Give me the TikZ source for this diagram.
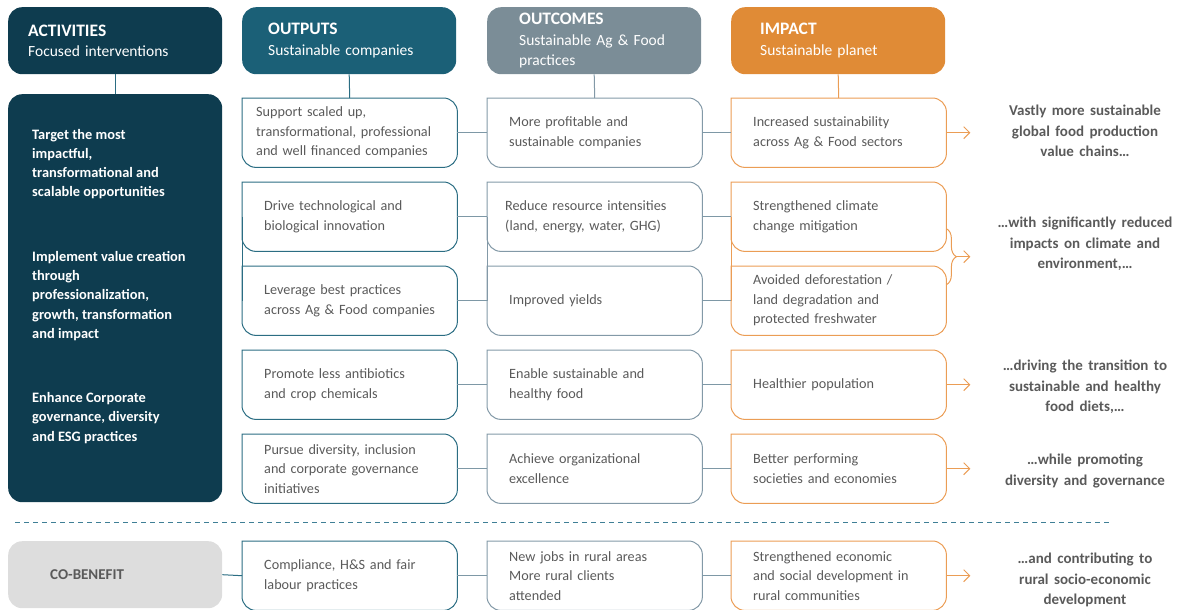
\documentclass[tikz,border=0pt]{standalone}
\usepackage{fontspec}
\setmainfont{Carlito}
\newfontfamily\widefont[WordSpace=1.6]{Carlito}
\usetikzlibrary{positioning,calc,arrows.meta,decorations.pathreplacing}

\definecolor{actdark}{HTML}{0E3C4F}
\definecolor{outhead}{HTML}{1B6077}
\definecolor{ochead}{HTML}{7B8D97}
\definecolor{imphead}{HTML}{E08B36}
\definecolor{outline}{HTML}{2B6D83}
\definecolor{ocline}{HTML}{8399A7}
\definecolor{impline}{HTML}{EB9D55}
\definecolor{linkcol}{HTML}{7E98A6}
\definecolor{txt}{HTML}{5A5A5A}
\definecolor{cogray}{HTML}{DDDDDD}
\definecolor{sepcol}{HTML}{3F7F96}

\tikzset{
	head/.style={fill=#1, rounded corners=14pt, minimum width=214pt, minimum height=67pt, inner ysep=0pt,
		text=white, align=left, anchor=north west, font=\fontsize{15.5}{20.5}\selectfont},
	cell/.style={minimum width=215pt, minimum height=69pt, inner xsep=22pt, text width=171pt,
		align=left, anchor=north west, text=txt, font=\fontsize{14.2}{19.5}\selectfont},
	acttext/.style={anchor=west, align=left, inner sep=0pt, text=white, font=\bfseries\fontsize{14.4}{19.2}\selectfont},
	goal/.style={text=txt, align=center, font=\widefont\bfseries\fontsize{15}{20.5}\selectfont},
	link/.style={draw=#1, line width=1pt},
	outarrow/.style={draw=impline, line width=1pt, -{Straight Barb[length=6pt,width=12pt]}}
}
\newcommand{\cellframe}[2]{\draw[draw=#2, line width=1pt] (#1.west) |- (#1.north) [rounded corners=14pt] -| (#1.south east) -| (#1.west);}

\begin{document}
\begin{tikzpicture}[x=1pt, y=-1pt]
	\useasboundingbox (0,0) rectangle (1186,610);
	
	% headers
	\node[head=actdark, inner xsep=20pt, text width=174pt] (hact) at (8,7) {{\bfseries\fontsize{17.5}{21}\selectfont ACTIVITIES}\\Focused interventions};
	\node[head=outhead, inner xsep=26pt, text width=162pt] (hout) at (242,7) {{\bfseries\fontsize{17.5}{21}\selectfont OUTPUTS}\\Sustainable companies};
	\node[head=ochead, inner xsep=32pt, text width=150pt] (hoc) at (487,7) {{\bfseries\fontsize{17.5}{20}\selectfont OUTCOMES}\\Sustainable Ag \& Food\\practices};
	\node[head=imphead, inner xsep=29pt, text width=156pt] (himp) at (731,7) {{\bfseries\fontsize{17.5}{21}\selectfont IMPACT}\\Sustainable planet};
	
	% activities
	\node[fill=actdark, rounded corners=14pt, minimum width=214pt, minimum height=408pt, anchor=north west] (act) at (8,94) {};
	\node[acttext] (t1) at (32,164) {Target the most\\impactful,\\transformational and\\scalable opportunities};
	\node[acttext] (t2) at (32,296) {Implement value creation\\through\\professionalization,\\growth, transformation\\and impact};
	\node[acttext] (t3) at (32,418) {Enhance Corporate\\governance, diversity\\and ESG practices};
	
	% outputs
	\node[cell, inner xsep=14pt, text width=187pt] (o1) at (242,98) {Support scaled up,\\transformational, professional\\and well financed companies};
	\node[cell] (o2) at (242,182) {Drive technological and\\biological innovation};
	\node[cell] (o3) at (242,266) {Leverage best practices\\across Ag \& Food companies};
	\node[cell] (o4) at (242,350) {Promote less antibiotics\\and crop chemicals};
	\node[cell] (o5) at (242,434) {Pursue diversity, inclusion\\and corporate governance\\initiatives};
	\node[cell] (o6) at (242,541) {Compliance, H\&S and fair\\labour practices};
	
	% outcomes
	\node[cell] (c1) at (487,98) {More profitable and\\sustainable companies};
	\node[cell, inner xsep=18pt, text width=179pt] (c2) at (487,182) {Reduce resource intensities\\(land, energy, water, GHG)};
	\node[cell] (c3) at (487,266) {Improved yields};
	\node[cell] (c4) at (487,350) {Enable sustainable and\\healthy food};
	\node[cell] (c5) at (487,434) {Achieve organizational\\excellence};
	\node[cell] (c6) at (487,541) {New jobs in rural areas\\More rural clients\\attended};
	
	% impact
	\node[cell] (i1) at (731,98) {Increased sustainability\\across Ag \& Food sectors};
	\node[cell] (i2) at (731,182) {Strengthened climate\\change mitigation};
	\node[cell] (i3) at (731,266) {Avoided deforestation /\\land degradation and\\protected freshwater};
	\node[cell] (i4) at (731,350) {Healthier population};
	\node[cell] (i5) at (731,434) {Better performing\\societies and economies};
	\node[cell] (i6) at (731,541) {Strengthened economic\\and social development in\\rural communities};
	
	% co-benefit
	\node[fill=cogray, rounded corners=14pt, minimum width=214pt, minimum height=67pt, anchor=north west,
		inner xsep=42pt, text width=130pt, align=left, text=txt, font=\bfseries\fontsize{15}{19}\selectfont] (cob) at (8,541) {CO-BENEFIT};
	
	% goals
	\node[goal] (r1) at (1085,131) {Vastly more sustainable\\global food production\\value chains…};
	\node[goal] (r23) at (1085,244) {…with significantly reduced\\impacts on climate and\\environment,…};
	\node[goal] (r4) at (1085,387) {…driving the transition to\\sustainable and healthy\\food diets,…};
	\node[goal] (r5) at (1085,471) {…while promoting\\diversity and governance};
	\node[goal] (r6) at (1085,580) {…and contributing to\\rural socio-economic\\development};
	
	% frames and links
	\foreach \n in {1,...,6} {
		\cellframe{o\n}{outline}
		\cellframe{c\n}{ocline}
		\cellframe{i\n}{impline}
		\draw[link=linkcol] (o\n.east) -- (c\n.west);
		\draw[link=linkcol] (c\n.east) -- (i\n.west);
	}
	\draw[link=outline] (o2.west) -- (o3.west);
	\draw[link=ocline] (c2.west) -- (c3.west);
	\draw[link=impline] (i2.west) -- (i3.west);
	\draw[link=outline] (hact.south) -- (act.north);
	\draw[link=outline] (hout.south) -- (o1.north);
	\draw[link=ocline] (hoc.south) -- (c1.north);
	\draw[link=impline] (himp.south) -- (i1.north);
	\draw[link=outline] (cob.east) -- (o6.west);
	
	% arrows to goals
	\foreach \n in {1,4,5,6} {
		\coordinate (g\n) at ($(i\n.east)+(24,0)$);
		\draw[outarrow] (i\n.east) -- (g\n);
	}
	\coordinate (b2) at ($(i2.east)+(0,12)$);
	\coordinate (b3) at ($(i3.east)+(0,-16)$);
	\coordinate (bm) at ($(b2)!0.5!(b3)+(10,0)$);
	\coordinate (g23) at ($(bm)+(14,0)$);
	\draw[decorate, decoration={brace, amplitude=10pt}, draw=impline, line width=1pt] (b2) -- (b3);
	\draw[outarrow] (bm) -- (g23);
	
	% separator
	\draw[draw=sepcol, line width=0.8pt, dash pattern=on 5pt off 4pt] (15,522) -- (1110,522);
\end{tikzpicture}
\end{document}
